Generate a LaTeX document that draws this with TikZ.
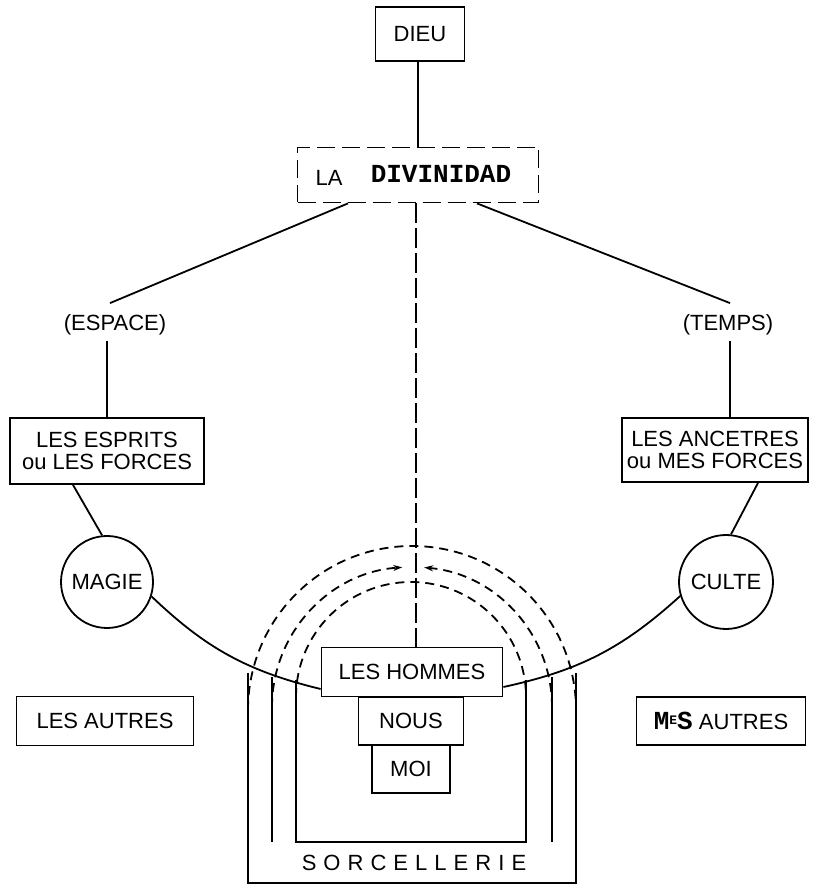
\documentclass[tikz,border=0pt]{standalone}
\usepackage{fontspec}
\setmainfont{Liberation Sans}
\newfontfamily\typew{Liberation Mono}
\newfontfamily\spacedfont[LetterSpace=32]{Liberation Sans}
\usetikzlibrary{arrows.meta}
\begin{document}
\begin{tikzpicture}[x=1pt,y=1pt,line width=1.8pt,
  every node/.style={font=\fontsize{22}{22}\selectfont, inner sep=0pt},
  rbox/.style={draw, align=center},
  dbox/.style={draw, dash pattern=on 18pt off 7pt},
  rnd/.style={draw, circle, minimum size=92pt},
  lbl/.style={minimum height=36pt},
  tw/.style={font=\fontsize{26}{26}\typew\bfseries},
  longdash/.style={dash pattern=on 20pt off 5pt},
  arch/.style={dash pattern=on 9pt off 6pt},
  tip/.style={-{Stealth[length=9pt,width=6pt]}}
]
\useasboundingbox (0,0) rectangle (820,889);

% --- upper part
\node[rbox, minimum width=89pt, minimum height=54pt] (dieu) at (420,855) {DIEU};
\node[dbox, minimum width=241pt, minimum height=55pt] (div) at (418,714) {};
\node (la) at (329,711) {LA};
\node[tw] (divt) at (441,715) {DIVINIDAD};

\node[lbl] (espace) at (115,564) {(ESPACE)};
\node[lbl] (temps) at (728,564) {(TEMPS)};

\node[rbox, minimum width=194pt, minimum height=66pt] (esprits) at (107,438) {LES ESPRITS\\ou LES FORCES};
\node[rbox, minimum width=186pt, minimum height=64pt] (anc) at (715,439) {LES ANCETRES\\ou MES FORCES};

\node[rnd] (magie) at (107,307) {MAGIE};
\node[rnd, minimum size=94pt] (culte) at (726,307) {CULTE};

\node[rbox, minimum width=177pt, minimum height=49pt] (autres) at (105,168) {LES AUTRES};
\node[rbox, minimum width=169pt, minimum height=48pt] (mesautres) at (721,168)
  {{\fontsize{26}{26}\typew\bfseries M\raisebox{5pt}{\fontsize{13}{13}\selectfont E}S} AUTRES};

% --- centre
\node[rbox, minimum width=181pt, minimum height=49pt] (hommes) at (412,217) {LES HOMMES};
\node[rbox, minimum width=105pt, minimum height=48pt] (nous) at (411,168) {NOUS};
\node[rbox, minimum width=78pt, minimum height=48pt] (moi) at (411,120) {MOI};
\node[font=\fontsize{22}{22}\spacedfont] (sorc) at (414,26) {SORCELLERIE};

% --- connectors
\draw ([xshift=-2pt]dieu.south) -- ([xshift=-2pt]dieu.south |- div.north);
\draw ([xshift=-70pt]div.south) -- ([xshift=-5pt,yshift=3pt]espace.north);
\draw ([xshift=59pt]div.south) -- ([xshift=2pt,yshift=3pt]temps.north);
\draw ([yshift=3pt]esprits.north |- espace.south) -- (esprits.north);
\draw ([xshift=15pt,yshift=3pt]anc.north |- temps.south) -- ([xshift=15pt]anc.north);
\draw ([xshift=-34pt]esprits.south) -- (magie.96);
\draw ([xshift=43pt]anc.south) -- (culte.84);
\draw (magie.-18) to[bend right=15] ([yshift=-17pt]hommes.west);
\draw ([yshift=-15pt]hommes.east) to[bend right=15] (culte.197);
\draw[longdash] ([xshift=-2pt]div.south) -- ([xshift=-2pt]div.south |- hommes.north);

% --- arches of sorcellerie
\draw[arch] (248,179) arc[start angle=180, end angle=0, radius=164];
\draw[arch, tip] (272,182) arc[start angle=180, end angle=94, radius=140];
\draw[arch, tip] (552,182) arc[start angle=0, end angle=85, radius=140];
\draw[arch] (296,192) arc[start angle=180, end angle=0, radius=115];

\draw (248,216) -- (248,6) -- (576,6) -- (576,216);
\draw (272,212) -- (272,47);
\draw (552,212) -- (552,47);
\draw (296,209) -- (296,47) -- (526,47) -- (526,209);
\end{tikzpicture}
\end{document}
